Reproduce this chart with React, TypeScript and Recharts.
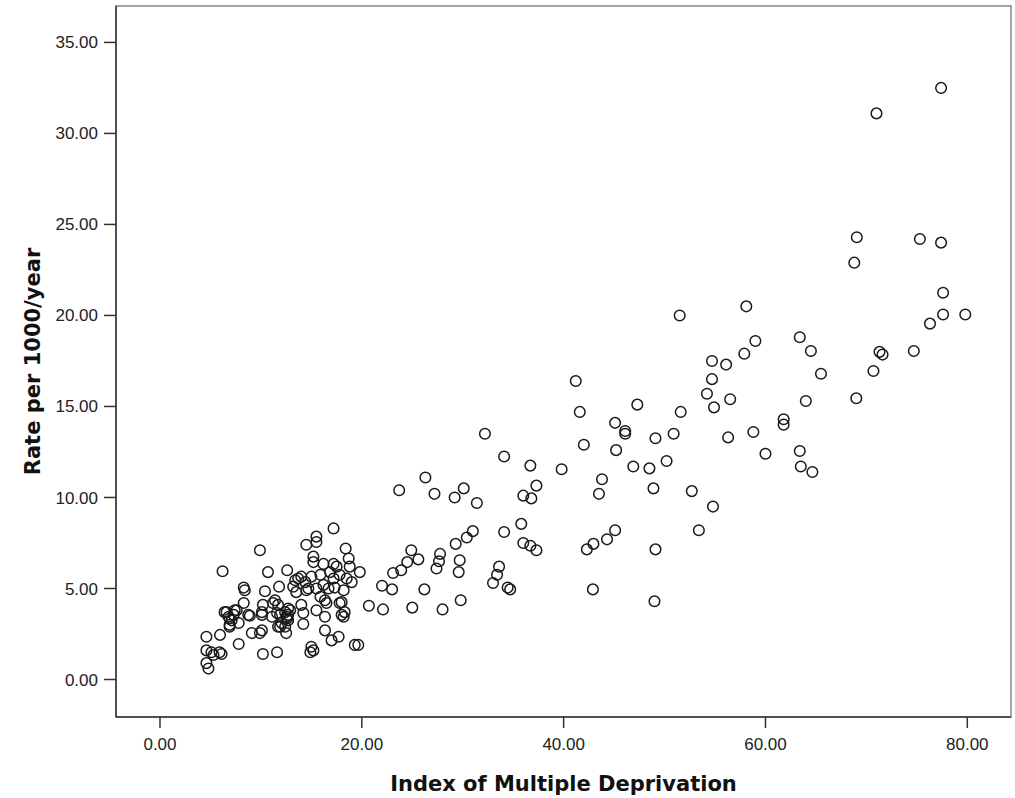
import { ScatterChart, Scatter, XAxis, YAxis, ReferenceArea } from 'recharts';

// IMD score vs rate per 1000/year, split by IMD band
const band0to20: [number, number][] = [
  [17.2, 8.3], [15.5, 7.85], [15.5, 7.55], [14.5, 7.4], [9.9, 7.1], [18.4, 7.2], [18.7, 6.65], [18.8, 6.2],
  [19.8, 5.9], [15.2, 6.75], [15.2, 6.45], [16.2, 6.35], [17.2, 6.35], [17.5, 6.2],
  [6.2, 5.95], [10.7, 5.9], [12.6, 6.0], [13.7, 5.55], [14.4, 5.35], [15.0, 5.65], [15.9, 5.75], [16.85, 5.9],
  [17.2, 5.55], [17.8, 5.75], [18.5, 5.55], [13.4, 5.45], [14.0, 5.65],
  [8.3, 5.05], [8.4, 4.9], [10.4, 4.85], [11.8, 5.1], [13.2, 5.1], [13.5, 4.8], [14.5, 4.9], [14.7, 5.0],
  [15.5, 5.0], [16.2, 5.2], [16.7, 5.0], [17.3, 5.05], [18.2, 4.9], [19.0, 5.35],
  [11.4, 4.35], [11.2, 4.2], [10.2, 4.1], [8.3, 4.2], [11.6, 3.65], [12.9, 3.8], [12.7, 3.55], [12.6, 3.35],
  [14.0, 4.1], [14.2, 3.65], [15.5, 3.8], [16.35, 3.45], [18.0, 3.55], [18.3, 3.7], [18.2, 3.45], [16.5, 4.2],
  [17.8, 4.2], [15.9, 4.55], [16.35, 4.35], [18.0, 4.25],
  [6.6, 3.7], [7.4, 3.8], [7.3, 3.55], [6.9, 3.35], [6.9, 3.0], [7.8, 3.1], [8.75, 3.55], [8.9, 3.5],
  [7.6, 3.8], [6.8, 3.45], [7.1, 3.25], [6.9, 2.9], [6.4, 3.7],
  [5.95, 2.45], [4.6, 2.35], [4.6, 1.6], [5.1, 1.5], [5.9, 1.5], [6.1, 1.4], [5.3, 1.35], [4.6, 0.9], [4.8, 0.6],
  [7.8, 1.95], [9.1, 2.55], [9.9, 2.55], [10.1, 2.7], [10.2, 1.4], [11.6, 1.5], [11.9, 2.9], [12.05, 3.1],
  [12.5, 2.55], [14.9, 1.5], [15.0, 1.8], [15.2, 1.6], [16.35, 2.7], [17.0, 2.15], [17.7, 2.35], [19.3, 1.9],
  [19.65, 1.9],
  [10.1, 3.55], [11.1, 3.45], [10.1, 3.7], [11.7, 4.1], [11.9, 3.55], [11.7, 2.9], [12.4, 3.7], [12.7, 3.9],
  [12.55, 3.45], [12.7, 3.25], [12.4, 2.9], [14.2, 3.05],
];

const band20to40: [number, number][] = [
  [20.7, 4.05], [22.1, 3.85], [22.0, 5.15], [23.0, 4.95], [25.0, 3.95], [28.0, 3.85], [29.8, 4.35], [26.2, 4.95],
  [23.9, 6.0], [23.1, 5.85], [24.5, 6.45], [25.6, 6.6], [24.9, 7.1], [27.75, 6.9], [27.65, 6.5], [27.4, 6.1],
  [29.7, 6.55], [29.6, 5.9], [33.6, 6.2], [33.4, 5.75], [33.0, 5.3], [34.45, 5.05], [34.7, 4.95],
  [29.3, 7.45], [30.4, 7.8], [31.0, 8.15], [34.1, 8.1], [35.8, 8.55], [36.0, 7.5], [36.7, 7.35], [37.3, 7.1],
  [23.7, 10.4], [26.3, 11.1], [27.2, 10.2], [29.2, 10.0], [30.1, 10.5], [31.4, 9.7], [36.0, 10.1], [36.8, 9.95],
  [37.3, 10.65], [32.2, 13.5], [34.1, 12.25], [36.7, 11.75], [39.8, 11.55],
];

const band40to60: [number, number][] = [
  [41.2, 16.4], [41.6, 14.7], [42.0, 12.9], [43.8, 11.0], [43.5, 10.2], [45.1, 14.1], [45.2, 12.6], [46.1, 13.65],
  [46.1, 13.5], [47.3, 15.1], [46.9, 11.7], [48.5, 11.6], [48.9, 10.5], [49.1, 13.25], [50.9, 13.5], [50.2, 12.0],
  [51.6, 14.7], [51.5, 20.0], [52.7, 10.35], [54.8, 9.5], [53.4, 8.2],
  [45.1, 8.2], [44.3, 7.7], [42.95, 7.45], [42.3, 7.15], [49.1, 7.15], [42.9, 4.95], [49.0, 4.3],
  [54.7, 17.5], [56.1, 17.3], [54.7, 16.5], [54.2, 15.7], [54.9, 14.95], [56.5, 15.4], [56.3, 13.3], [58.8, 13.6],
  [60.0, 12.4], [58.1, 20.5], [59.0, 18.6], [57.9, 17.9],
];

const band60plus: [number, number][] = [
  [61.8, 14.3], [61.8, 14.0], [63.4, 12.55], [63.5, 11.7], [64.65, 11.4], [64.0, 15.3], [63.4, 18.8], [64.5, 18.05],
  [65.5, 16.8], [69.0, 15.45], [70.7, 16.95], [71.3, 18.0], [71.6, 17.85], [74.7, 18.05], [76.3, 19.55],
  [77.6, 20.05], [79.8, 20.05], [77.6, 21.25], [68.8, 22.9], [69.05, 24.3], [75.3, 24.2], [77.4, 24.0],
  [71.0, 31.1], [77.4, 32.5],
];

const xTicks = [0, 20, 40, 60, 80];
const yTicks = [0, 5, 10, 15, 20, 25, 30, 35];
const xDomain: [number, number] = [-4.36, 84.33];
const yDomain: [number, number] = [-2.06, 37.0];

const points = [...band0to20, ...band20to40, ...band40to60, ...band60plus].map(([imd, rate]) => ({ imd, rate }));

const tickStyle = { fontFamily: 'Liberation Sans, Arial, sans-serif', fontSize: 17, fill: '#222' };
const titleStyle = { fontFamily: 'DejaVu Sans, Verdana, sans-serif', fontSize: 21, fontWeight: 700, fill: '#111' };

const OpenCircle = (props: any) => (
  <circle cx={props.cx} cy={props.cy} r={5.3} fill="none" stroke="#1a1a1a" strokeWidth={1.5} />
);

export default function App() {
  return (
    <div style={{ position: 'absolute', left: 0, top: 0, background: '#fff' }}>
      <ScatterChart width={1015} height={798} margin={{ top: 6, right: 4, left: 0, bottom: 0 }}>
        <ReferenceArea
          x1={xDomain[0]}
          x2={xDomain[1]}
          y1={yDomain[0]}
          y2={yDomain[1]}
          fill="none"
          stroke="#888"
          strokeWidth={1.5}
          ifOverflow="visible"
        />
        <XAxis
          type="number"
          dataKey="imd"
          domain={xDomain}
          ticks={xTicks}
          allowDataOverflow
          height={81}
          tickSize={11}
          tickMargin={10}
          tickFormatter={(v: number) => v.toFixed(2)}
          tick={tickStyle}
          stroke="#333"
          axisLine={{ stroke: '#333', strokeWidth: 1.5 }}
          tickLine={{ stroke: '#333', strokeWidth: 1.5 }}
          label={{ value: 'Index of Multiple Deprivation', position: 'insideBottom', offset: 7, style: titleStyle }}
        />
        <YAxis
          type="number"
          dataKey="rate"
          domain={yDomain}
          ticks={yTicks}
          allowDataOverflow
          width={116}
          tickSize={12}
          tickMargin={6}
          tickFormatter={(v: number) => v.toFixed(2)}
          tick={tickStyle}
          axisLine={{ stroke: '#333', strokeWidth: 1.5 }}
          tickLine={{ stroke: '#333', strokeWidth: 1.5 }}
          label={{
            value: 'Rate per 1000/year',
            angle: -90,
            position: 'insideLeft',
            offset: 33,
            style: { ...titleStyle, textAnchor: 'middle' },
          }}
        />
        <Scatter data={points} shape={OpenCircle} isAnimationActive={false} />
      </ScatterChart>
    </div>
  );
}
